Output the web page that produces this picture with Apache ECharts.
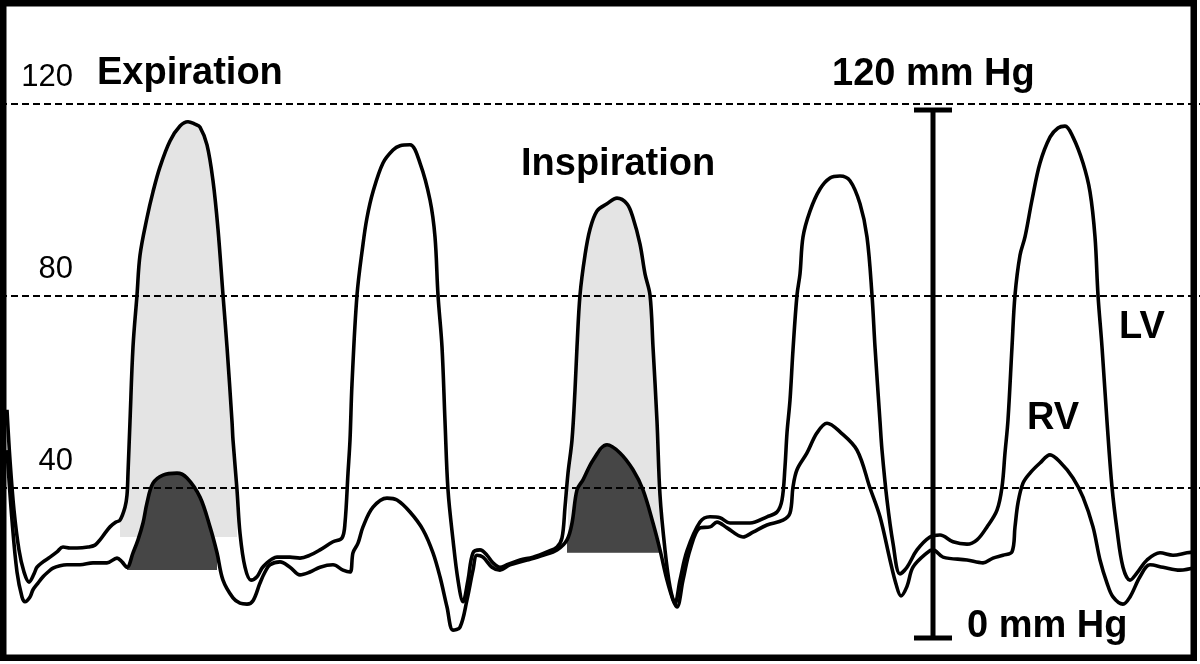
<!DOCTYPE html>
<html>
<head>
<meta charset="utf-8">
<style>
  html, body { margin: 0; padding: 0; background: #fff; }
  #chart { width: 1200px; height: 664px; }
</style>
<script src="https://cdn.jsdelivr.net/npm/echarts@6/dist/echarts.min.js"></script>
</head>
<body>
<div id="chart"></div>
<script>
// ---- Data (x = sample index, y = pressure in mm Hg) ----
const lvPressure = [
  [7,56.3],[10,45.8],[14,35.4],[19,27.1],[24,22.5],[29,20.4],[34,22.1],[37,23.5],[43,24.6],[50,25.6],
  [57,26.7],[63,27.7],[70,27.5],[77,27.5],[88,27.7],[95,28.1],[100,29.2],[105,30.6],[110,31.9],[116,32.9],
  [120,33.3],[125,36.0],[127,38.5],[128,43.1],[130,53.9],[133,69.4],[137,80.2],[140,88.5],[147,96.3],[153,101.7],
  [160,106.9],[170,112.3],[180,115.4],[188,116.3],[195,115.8],[200,115.2],[207,111.5],[213,104.0],[218,93.9],[223,80.2],
  [227,69.4],[232,53.9],[233,50.0],[237,39.6],[240,30.6],[245,23.5],[251,20.8],[257,21.5],[262,23.3],[267,24.4],
  [272,25.2],[277,25.6],[290,25.6],[300,25.4],[310,26.0],[320,27.1],[333,28.8],[342,29.6],[345,32.7],[348,43.1],
  [350,50.0],[352,61.7],[357,80.2],[363,90.8],[367,96.3],[373,101.7],[383,107.7],[393,110.4],[400,111.3],[410,111.5],
  [420,107.7],[430,100.0],[435,92.3],[438,80.2],[442,69.4],[445,53.9],[448,39.6],[453,29.2],[458,20.8],[463,16.3],
  [468,20.8],[473,26.5],[480,27.1],[487,26.0],[493,24.4],[500,23.5],[507,24.0],[520,25.0],[533,25.6],[547,26.7],
  [557,27.7],[562,29.6],[565,36.0],[568,43.1],[572,50.0],[575,60.4],[577,69.4],[580,80.2],[585,88.5],[590,93.9],
  [597,97.7],[607,99.2],[617,100.4],[627,99.2],[633,96.3],[640,90.8],[645,84.6],[650,80.2],[653,69.4],[657,53.9],
  [660,38.5],[665,27.1],[670,19.4],[675,16.0],[680,20.8],[687,26.9],[700,32.9],[710,34.0],[720,33.8],[730,32.7],
  [750,32.7],[767,34.0],[777,35.0],[782,37.5],[785,44.4],[787,51.5],[790,58.3],[793,68.8],[797,80.2],[800,84.6],
  [803,92.3],[810,97.7],[820,102.3],[830,104.6],[840,105.0],[850,104.0],[860,99.2],[867,92.3],[872,80.2],[875,69.4],
  [880,53.9],[882,47.9],[887,37.5],[893,28.5],[900,22.1],[907,23.5],[917,27.1],[930,29.8],[940,30.2],[953,28.8],
  [967,28.3],[977,29.2],[987,31.9],[997,35.4],[1002,40.2],[1005,47.3],[1008,54.2],[1012,69.4],[1015,80.2],[1020,88.5],
  [1025,92.3],[1032,100.0],[1040,107.7],[1050,113.1],[1058,115.0],[1065,115.4],[1073,113.1],[1083,107.7],[1090,101.7],[1095,92.3],
  [1098,80.2],[1102,69.4],[1107,53.9],[1112,40.2],[1117,31.3],[1123,23.5],[1130,20.8],[1137,22.3],[1147,25.0],[1160,26.5],
  [1173,26.0],[1187,26.5],[1196,26.7]
];

const rvPressure = [
  [7,47.9],[12,33.3],[17,22.5],[22,17.3],[25,16.3],[30,17.3],[33,18.8],[38,20.2],[43,21.5],[48,22.5],
  [53,23.3],[60,23.8],[67,24.0],[80,24.0],[93,24.4],[107,24.4],[117,25.4],[122,24.6],[127,23.5],[133,26.5],
  [138,29.2],[143,32.7],[147,36.9],[153,41.0],[163,42.7],[177,43.1],[187,42.1],[200,38.1],[210,31.9],[217,26.5],
  [223,20.8],[233,17.1],[240,16.0],[247,15.8],[253,16.5],[260,20.2],[265,22.5],[270,24.0],[280,24.6],[290,23.5],
  [300,21.9],[310,22.5],[320,23.5],[333,24.0],[343,22.9],[350,22.5],[353,26.5],[358,28.5],[363,31.9],[373,36.0],
  [387,37.9],[397,37.5],[410,35.0],[423,31.3],[433,26.5],[440,21.5],[447,15.2],[453,10.4],[460,11.0],[467,16.7],
  [473,22.9],[477,26.0],[483,25.6],[492,23.5],[500,22.9],[510,24.0],[527,25.0],[543,26.0],[557,27.1],[567,29.2],
  [572,32.7],[577,39.6],[583,41.7],[593,45.8],[607,49.0],[620,47.3],[633,43.8],[643,39.6],[653,32.7],[660,27.1],
  [667,20.8],[673,16.7],[677,15.2],[683,20.8],[690,27.1],[700,31.7],[710,31.9],[717,32.9],[727,31.7],[743,29.8],
  [753,30.8],[767,32.3],[783,33.3],[790,34.8],[793,40.2],[797,43.8],[807,47.3],[817,51.5],[827,53.5],[840,51.7],
  [857,47.9],[870,40.0],[880,34.0],[890,25.0],[896,20.0],[901,17.5],[907,19.5],[913,23.5],[927,26.5],[933,27.1],
  [943,25.6],[967,25.0],[983,24.4],[993,25.4],[1003,26.0],[1012,26.7],[1015,31.9],[1018,36.9],[1023,41.0],[1030,43.1],
  [1040,45.2],[1050,46.9],[1060,45.4],[1073,42.1],[1083,38.1],[1093,31.9],[1100,25.0],[1107,20.2],[1113,17.3],[1123,15.8],
  [1130,17.3],[1140,21.5],[1150,24.0],[1163,23.5],[1180,22.9],[1196,23.5]
];

const yTickLabels = [40, 80, 120];            // dashed reference levels (mm Hg)
const lvShadeRanges = [[120, 237, 29.8], [568, 660, 26.5]];   // [from, to, floor]
const rvShadeRanges = [[127, 217, 22.9], [567, 660, 26.5]];
const scaleBarX = [933];
const scaleBarRange = [8.75, 118.75];          // bottom, top (mm Hg on plot scale)
const phaseLabels = ['Expiration', 'Inspiration'];
const chamberLabels = ['LV', 'RV'];
const scaleLabels = ['120 mm Hg', '0 mm Hg'];

// ---- Chart ----
const chart = echarts.init(document.getElementById('chart'), null, { renderer: 'canvas' });
const SANS = '"Liberation Sans", Arial, Helvetica, sans-serif';
const BOLD = 'bold 38px ' + SANS;
const SMOOTH = 0.35;

function shadeRenderer(curve, color) {
  return function (params, api) {
    const x1 = api.value(0), x2 = api.value(1), floor = api.value(2);
    const pts = curve.filter(p => p[0] >= x1 && p[0] <= x2).map(p => api.coord(p));
    const poly = [api.coord([x1, floor])].concat(pts, [api.coord([x2, floor])]);
    return { type: 'polygon', shape: { points: poly }, style: { fill: color, stroke: null } };
  };
}

const option = {
  animation: false,
  backgroundColor: '#ffffff',
  grid: { left: 0, width: 1200, top: 8, height: 648, containLabel: false },
  xAxis: { type: 'value', min: 0, max: 1200, show: false },
  yAxis: {
    type: 'value', min: 5, max: 140,
    axisLine: { show: false }, axisTick: { show: false }, splitLine: { show: false },
    axisLabel: {
      inside: true, align: 'right', verticalAlign: 'bottom', margin: 73,
      customValues: yTickLabels,
      fontSize: 31, fontFamily: SANS, color: '#000', padding: [0, 0, 11, 0],
      formatter: v => (yTickLabels.indexOf(v) >= 0 ? String(v) : '')
    }
  },
  series: [
    {
      type: 'custom', name: 'LV shade', z: 1, silent: true,
      data: lvShadeRanges, encode: { x: [0, 1], y: 2 },
      renderItem: shadeRenderer(lvPressure, '#e4e4e4')
    },
    {
      type: 'custom', name: 'RV shade', z: 2, silent: true,
      data: rvShadeRanges, encode: { x: [0, 1], y: 2 },
      renderItem: shadeRenderer(rvPressure, '#464646')
    },
    {
      type: 'line', name: 'levels', z: 3, data: [], silent: true,
      markLine: {
        silent: true, symbol: ['none', 'none'], label: { show: false },
        lineStyle: { type: [7, 4], color: '#000', width: 2 },
        data: yTickLabels.map(v => ({ yAxis: v }))
      }
    },
    {
      type: 'line', name: 'RV', z: 4, data: rvPressure, showSymbol: false, smooth: SMOOTH,
      lineStyle: { color: '#000', width: 3.6 }, silent: true
    },
    {
      type: 'line', name: 'LV', z: 5, data: lvPressure, showSymbol: false, smooth: SMOOTH,
      lineStyle: { color: '#000', width: 3.6 }, silent: true
    },
    {
      type: 'custom', name: 'scale bar', z: 6, silent: true,
      data: [[scaleBarX[0], scaleBarRange[0], scaleBarRange[1]]],
      encode: { x: 0, y: [1, 2] },
      renderItem: function (params, api) {
        const top = api.coord([api.value(0), api.value(2)]);
        const bot = api.coord([api.value(0), api.value(1)]);
        const st = { stroke: '#000', lineWidth: 5 };
        return {
          type: 'group', children: [
            { type: 'line', shape: { x1: top[0], y1: top[1], x2: bot[0], y2: bot[1] }, style: st },
            { type: 'line', shape: { x1: top[0] - 19, y1: top[1], x2: top[0] + 19, y2: top[1] }, style: st },
            { type: 'line', shape: { x1: bot[0] - 19, y1: bot[1], x2: bot[0] + 19, y2: bot[1] }, style: st }
          ]
        };
      }
    }
  ],
  graphic: [
    { type: 'text', z: 100, style: { text: phaseLabels[0], x: 97, y: 73.5, verticalAlign: 'middle', font: BOLD, fill: '#000' } },
    { type: 'text', z: 100, style: { text: phaseLabels[1], x: 521, y: 164.5, verticalAlign: 'middle', font: BOLD, fill: '#000' } },
    { type: 'text', z: 100, style: { text: scaleLabels[0], x: 832, y: 75, verticalAlign: 'middle', font: BOLD, fill: '#000' } },
    { type: 'text', z: 100, style: { text: scaleLabels[1], x: 967, y: 627, verticalAlign: 'middle', font: BOLD, fill: '#000' } },
    { type: 'text', z: 100, style: { text: chamberLabels[0], x: 1119, y: 328, verticalAlign: 'middle', font: BOLD, fill: '#000' } },
    { type: 'text', z: 100, style: { text: chamberLabels[1], x: 1027, y: 419, verticalAlign: 'middle', font: BOLD, fill: '#000' } },
    { type: 'rect', z: 200, shape: { x: 3.25, y: 3.25, width: 1190.5, height: 654.5 }, style: { fill: null, stroke: '#000', lineWidth: 6.5 } }
  ]
};
chart.setOption(option);
</script>
</body>
</html>
